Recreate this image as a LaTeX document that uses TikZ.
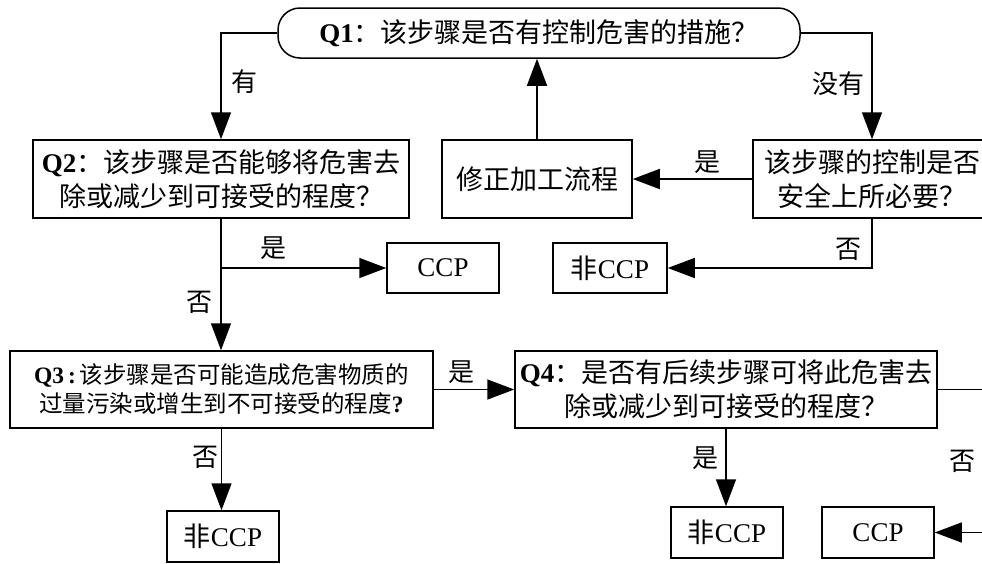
\documentclass[tikz,border=0pt]{standalone}
\usepackage{fontspec}
\setmainfont{Liberation Serif}
\newfontfamily\cjk{Noto Sans CJK SC}
\usetikzlibrary{arrows.meta}
\begin{document}
\begin{tikzpicture}[x=1pt,y=-1pt,
  box/.style={draw, line width=1.5pt, inner sep=0pt, align=center, font=\fontsize{27}{34}\selectfont},
  smallbox/.style={box, font=\fontsize{23.5}{29}\selectfont},
  lab/.style={inner sep=0pt, font=\cjk\fontsize{26}{26}\selectfont},
  conn/.style={line width=1.5pt},
  arr/.style={conn, -{Triangle[length=27pt,width=20pt]}}
]
\fill[white] (0,0) rectangle (982,563);
\useasboundingbox (0,0) rectangle (982,563);
% nodes
\node[box, rounded corners=22pt, minimum width=522pt, minimum height=50pt] (q1) at (539,33)
  {\textbf{Q1}{\cjk ：该步骤是否有控制危害的措施？}};
\node[box, minimum width=376pt, minimum height=78pt] (q2) at (221,179)
  {\textbf{Q2}{\cjk ：该步骤是否能够将危害去}\\{\cjk 除或减少到可接受的程度？}};
\node[box, minimum width=190pt, minimum height=78pt] (fix) at (537,179)
  {{\cjk 修正加工流程}};
\node[box, minimum width=238pt, minimum height=78pt] (rbox) at (872,179)
  {{\cjk 该步骤的控制是否}\\{\cjk 安全上所必要？}};
\node[box, minimum width=112pt, minimum height=50pt] (ccp1) at (443,268) {CCP};
\node[box, minimum width=114pt, minimum height=50pt] (nccp1) at (610,268) {{\cjk 非}CCP};
\node[smallbox, minimum width=423pt, minimum height=77pt] (q3) at (221.5,389.5)
  {\textbf{Q3\,:\,}{\cjk 该步骤是否可能造成危害物质的}\\{\cjk 过量污染或增生到不可接受的程度}\textbf{?}};
\node[box, minimum width=422pt, minimum height=77pt] (q4) at (726,389.5)
  {\textbf{Q4}{\cjk ：是否有后续步骤可将此危害去}\\{\cjk 除或减少到可接受的程度？}};
\node[box, minimum width=112pt, minimum height=51pt] (nccp2) at (223,536.5) {{\cjk 非}CCP};
\node[box, minimum width=112pt, minimum height=51pt] (nccp3) at (727,532.5) {{\cjk 非}CCP};
\node[box, minimum width=112pt, minimum height=51pt] (ccp2) at (878,532.5) {CCP};
% connectors
\draw[arr] (q1.west) -| (q2.north);
\draw[arr] (q1.east) -| (rbox.north);
\draw[arr] (rbox.west) -- (fix.east);
\draw[arr] (fix.north) -- (fix.north |- q1.south);
\draw[arr] (rbox.south) |- (nccp1.east);
\draw[arr] (q2.south) -- (q2.south |- q3.north);
\coordinate (br) at (q2.south |- ccp1.west);
\draw[arr] (br) -- (ccp1.west);
\draw[arr] (q3.east) -- (q4.west);
\draw[arr] (q3.south) -- (q3.south |- nccp2.north);
\draw[arr] (q4.south) -- (q4.south |- nccp3.north);
\coordinate (edge) at (992,0);
\draw[arr] (q4.east) -| (edge |- ccp2.east) -- (ccp2.east);
% labels
\node[lab] (l1) at (244,82) {有};
\node[lab] (l2) at (838,84) {没有};
\node[lab] (l3) at (707,162) {是};
\node[lab] (l4) at (848,249) {否};
\node[lab] (l5) at (273,248) {是};
\node[lab] (l6) at (199,302) {否};
\node[lab] (l7) at (461,372) {是};
\node[lab] (l8) at (205,457) {否};
\node[lab] (l9) at (705,458) {是};
\node[lab] (l10) at (962,461) {否};
\end{tikzpicture}
\end{document}
